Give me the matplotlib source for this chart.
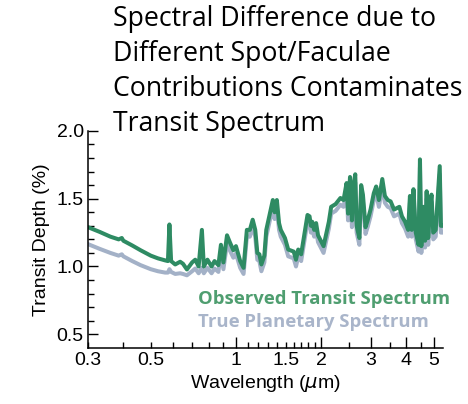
import matplotlib
matplotlib.use("Agg")
import matplotlib.pyplot as plt
from matplotlib.ticker import FixedLocator, FixedFormatter

# Longueurs d'onde (micron) et profondeurs de transit (%)
wavelength = [0.30, 0.33, 0.36, 0.385, 0.395, 0.40, 0.43, 0.46, 0.50, 0.53, 0.562, 0.575,
              0.582, 0.59, 0.61, 0.635, 0.65, 0.671, 0.70, 0.718, 0.738, 0.758, 0.77,
              0.793, 0.82, 0.84, 0.867, 0.885, 0.903, 0.93, 0.951, 0.979, 1.0, 1.035,
              1.064, 1.093, 1.12, 1.146, 1.17, 1.19, 1.21, 1.23, 1.26, 1.28, 1.35, 1.37,
              1.395, 1.42, 1.44, 1.49, 1.53, 1.60, 1.63, 1.66, 1.70, 1.79, 1.82, 1.84,
              1.86, 1.89, 1.92, 1.95, 2.04, 2.13, 2.17, 2.25, 2.34, 2.40, 2.46, 2.49,
              2.53, 2.57, 2.60, 2.64, 2.67, 2.73, 2.77, 2.81, 2.87, 2.92, 2.99, 3.07,
              3.13, 3.20, 3.29, 3.36, 3.44, 3.52, 3.62, 3.78, 3.86, 3.96, 4.06, 4.12,
              4.18, 4.24, 4.32, 4.42, 4.47, 4.52, 4.60, 4.66, 4.72, 4.78, 4.85, 4.91,
              4.98, 5.08, 5.25, 5.30, 5.35]

observed = [1.29, 1.255, 1.22, 1.20, 1.21, 1.19, 1.155, 1.12, 1.08, 1.06, 1.045, 1.04,
            1.31, 1.04, 1.015, 1.035, 1.02, 0.978, 1.03, 1.05, 1.00, 1.27, 1.00,
            1.05, 1.00, 1.04, 1.01, 1.16, 1.03, 1.23, 1.18, 1.12, 1.15, 1.04,
            0.99, 1.27, 1.27, 1.345, 1.27, 1.10, 1.09, 1.015, 1.08, 1.27, 1.49, 1.40,
            1.49, 1.32, 1.27, 1.21, 1.125, 1.11, 1.05, 1.125, 1.09, 1.38, 1.37, 1.30,
            1.33, 1.27, 1.32, 1.23, 1.15, 1.33, 1.44, 1.46, 1.505, 1.49, 1.615, 1.39,
            1.66, 1.34, 1.59, 1.68, 1.30, 1.21, 1.60, 1.53, 1.29, 1.34, 1.42, 1.54,
            1.59, 1.49, 1.645, 1.52, 1.49, 1.48, 1.42, 1.44, 1.37, 1.33, 1.27, 1.52,
            1.27, 1.57, 1.25, 1.16, 1.79, 1.15, 1.44, 1.19, 1.555, 1.21, 1.43, 1.53,
            1.25, 1.27, 1.74, 1.30, 1.30]

true_spectrum = [1.165, 1.13, 1.10, 1.08, 1.09, 1.075, 1.04, 1.01, 0.98, 0.965, 0.955, 0.955,
                 0.98, 0.96, 0.945, 0.95, 0.945, 0.935, 0.965, 0.985, 0.95, 0.99, 0.95,
                 0.99, 0.95, 0.985, 0.96, 1.10, 0.98, 1.17, 1.12, 1.065, 1.095, 0.99,
                 0.945, 1.22, 1.22, 1.295, 1.22, 1.05, 1.04, 0.965, 1.03, 1.22, 1.44, 1.35,
                 1.44, 1.27, 1.22, 1.16, 1.075, 1.06, 1.00, 1.075, 1.04, 1.33, 1.32, 1.25,
                 1.28, 1.22, 1.27, 1.18, 1.10, 1.28, 1.39, 1.41, 1.455, 1.44, 1.56, 1.34,
                 1.60, 1.29, 1.53, 1.62, 1.25, 1.16, 1.55, 1.48, 1.24, 1.29, 1.37, 1.49,
                 1.54, 1.44, 1.59, 1.47, 1.44, 1.43, 1.37, 1.39, 1.32, 1.28, 1.22, 1.47,
                 1.22, 1.52, 1.20, 1.11, 1.73, 1.10, 1.39, 1.14, 1.50, 1.16, 1.38, 1.48,
                 1.20, 1.22, 1.68, 1.25, 1.25]

x_major = [1, 2, 3, 4, 5]
x_major_labels = ["1", "2", "3", "4", "5"]
x_minor = [0.3, 0.4, 0.5, 0.6, 0.7, 0.8, 0.9, 1.1, 1.2, 1.3, 1.4, 1.5, 1.6, 1.7, 1.8, 1.9,
           2.5, 3.5, 4.5]
x_minor_labels = ["0.3", "", "0.5", "", "", "", "", "", "", "", "", "1.5", "", "", "", "",
                  "", "", ""]

green = "#2e8b63"
gray = "#a3b1c7"

plt.rcParams["font.family"] = ["Liberation Sans", "DejaVu Sans"]

fig = plt.figure(figsize=(4.68, 4.04), dpi=100)
ax = fig.add_axes([0.188, 0.139, 0.759, 0.537])

ax.plot(wavelength, true_spectrum, color=gray, linewidth=2.9, solid_joinstyle="round")
ax.plot(wavelength, observed, color=green, linewidth=2.9, solid_joinstyle="round")

ax.set_xscale("log")
ax.set_xlim(0.3, 5.4)
ax.set_ylim(0.4, 2.0)

ax.xaxis.set_major_locator(FixedLocator(x_major))
ax.xaxis.set_major_formatter(FixedFormatter(x_major_labels))
ax.xaxis.set_minor_locator(FixedLocator(x_minor))
ax.xaxis.set_minor_formatter(FixedFormatter(x_minor_labels))

ax.set_yticks([0.5, 1.0, 1.5, 2.0])
ax.set_yticklabels(["0.5", "1.0", "1.5", "2.0"])
ax.set_yticks([0.6, 0.7, 0.8, 0.9, 1.1, 1.2, 1.3, 1.4, 1.6, 1.7, 1.8, 1.9], minor=True)

ax.tick_params(which="major", direction="in", length=8, width=1, labelsize=14, pad=3)
ax.tick_params(which="minor", direction="in", length=4, width=1, labelsize=14, pad=3)
ax.tick_params(axis="y", which="major", length=7)

for side in ["top", "right"]:
    ax.spines[side].set_visible(False)
for side in ["left", "bottom"]:
    ax.spines[side].set_linewidth(1.1)

ax.set_xlabel(r"Wavelength ($\mu$m)", fontsize=14, labelpad=3)
ax.set_ylabel("Transit Depth (%)", fontsize=14, labelpad=5)

fig.text(113 / 468, 1 - 5 / 404, "Spectral Difference due to\nDifferent Spot/Faculae\nContributions Contaminates\nTransit Spectrum",
         family="Open Sans", fontsize=19.2, va="top", ha="left", linespacing=1.33)

fig.text(198 / 468, 1 - 299 / 404, "Observed Transit Spectrum", family="Open Sans",
         fontweight="bold", fontsize=13.3, color="#4f9e70", va="center", ha="left")
fig.text(198 / 468, 1 - 322 / 404, "True Planetary Spectrum", family="Open Sans",
         fontweight="bold", fontsize=13.3, color="#a9b5ca", va="center", ha="left")

fig.savefig("out.png", dpi=100)
